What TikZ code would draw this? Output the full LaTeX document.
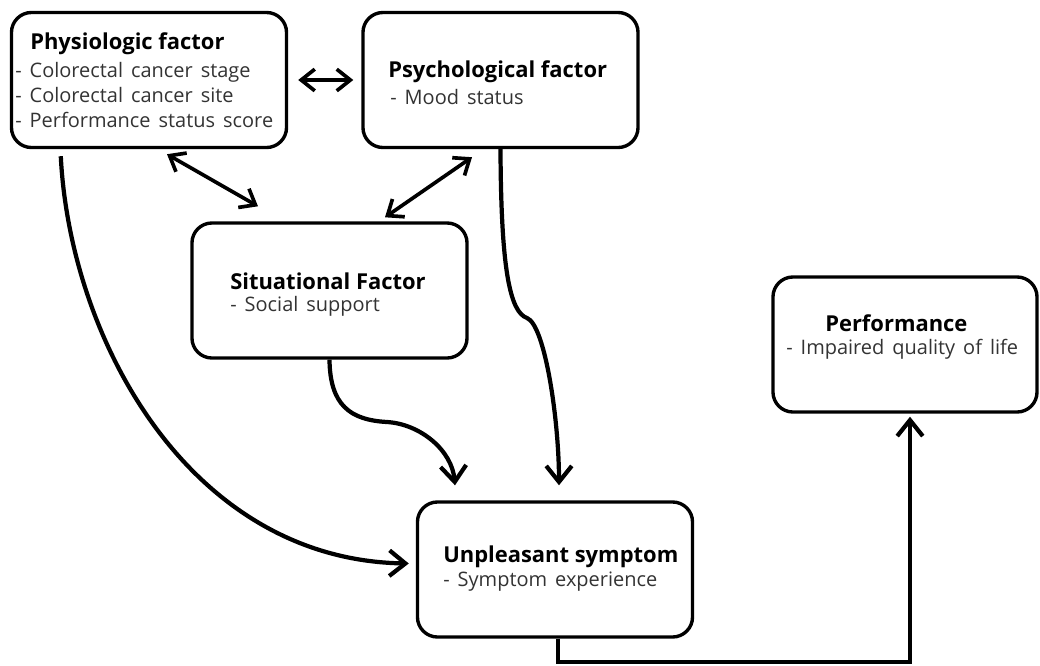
\documentclass[tikz,border=0pt]{standalone}
\usepackage{fontspec}
\setmainfont{Open Sans}
\usetikzlibrary{arrows.meta}
\usetikzlibrary{calc,positioning}

\definecolor{subgray}{HTML}{333333}
\newcommand{\widesp}{\spaceskip=0.4em\relax}

\tikzset{
  box/.style={draw, line width=2.4pt, rounded corners=0.5cm,
    minimum width=6.875cm, minimum height=3.375cm},
  tit/.style={anchor=west, inner sep=0pt, font=\fontsize{15.6}{17.7}\selectfont\bfseries},
  lst/.style={anchor=west, inner sep=0pt, align=left, text=subgray,
    font=\fontsize{14.2}{17.7}\selectfont, execute at begin node=\widesp},
  arr/.style={line width=3pt, -{Straight Barb[length=4mm,width=6.4mm]}},
  dbl/.style={line width=2.6pt, {Straight Barb[length=3.4mm,width=5.4mm]}-{Straight Barb[length=3.4mm,width=5.4mm]}}
}

\begin{document}
\begin{tikzpicture}[x=0.025cm, y=-0.025cm]
    \useasboundingbox (0,0) rectangle (1040,665);
    % boxes
    \node[box] (phys) at (149,80) {};
    \node[box] (psych) at (500.5,80) {};
    \node[box] (sit) at (329.5,290.5) {};
    \node[box] (unp) at (555,569.5) {};
    \node[box, minimum width=6.6cm] (perf) at (905,344.5) {};
    % texts
    \node[tit] (physT) at (30,44) {Physiologic factor};
    \node[lst] (physL) at (15,95) {- Colorectal cancer stage\\
      - Colorectal cancer site\\
      - Performance status score};
    \node[tit] (psychT) at (388,72) {Psychological factor};
    \node[lst] (psychL) at (390,97) {- Mood status};
    \node[tit] (sitT) at (230,281) {Situational Factor};
    \node[lst] (sitL) at (230,306) {- Social support};
    \node[tit] (unpT) at (443,557) {Unpleasant symptom};
    \node[lst] (unpL) at (443,582) {- Symptom experience};
    \node[tit] (perfT) at (825,323) {Performance};
    \node[lst] (perfL) at (786,349) {- Impaired quality of life};
    % links between factors
    \draw[dbl] ($(phys.east)+(10,0)$) -- ($(psych.west)+(-8,0)$);
    \draw[dbl] ($(phys.south)+(18,5)$) -- ($(sit.north)+(-71.5,-15)$);
    \draw[dbl] ($(psych.south)+(-28.5,8)$) -- ($(sit.north)+(55.5,-4)$);
    % into the symptom
    \draw[arr] ($(phys.south west)+(51,7)$) .. controls (70,340) and (190,560) .. ($(unp.west)+(-7,-6)$);
    \draw[arr] (psych.south) .. controls (501,270) and (510,312) .. (527,318)
      .. controls (545,325) and (559,420) .. ($(unp.north)+(4,-15)$);
    \draw[arr] (sit.south) .. controls (330,405) and (350,420) .. (387,422)
      .. controls (420,424) and (452,450) .. ($(unp.north)+(-100,-15)$);
    % symptom to performance
    \draw[arr] ($(unp.south)+(3,0)$) -- ++(0,23) -| ($(perf.south)+(5,3)$);
\end{tikzpicture}
\end{document}
